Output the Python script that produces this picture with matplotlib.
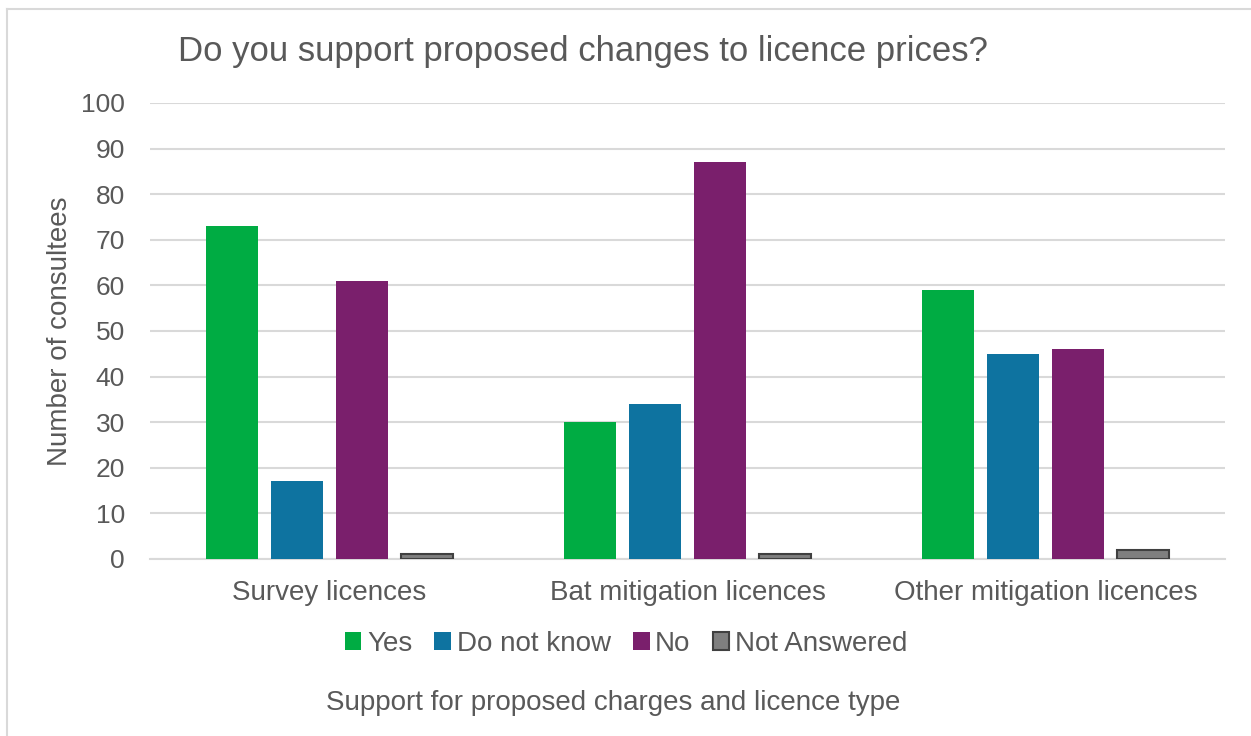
import matplotlib.pyplot as plt
import numpy as np
from matplotlib.lines import Line2D

plt.rcParams['font.family'] = ['Liberation Sans', 'DejaVu Sans']

categories = ["Survey licences", "Bat mitigation licences", "Other mitigation licences"]
series = ["Yes", "Do not know", "No", "Not Answered"]
yes = [73, 30, 59]
do_not_know = [17, 34, 45]
no = [61, 87, 46]
not_answered = [1, 1, 2]

colors = ["#00AC43", "#0E73A0", "#7A1F6C", "#7F7F7F"]
edges = ["none", "none", "none", "#404040"]
txt = "#595959"
grid = "#D9D9D9"

fig = plt.figure(figsize=(12.51, 7.36), dpi=100)
ax = fig.add_axes([150 / 1251, 1 - 559 / 736, 1075 / 1251, 456 / 736])

x = np.arange(len(categories))
width = 0.145
step = 0.1816
for i, (name, vals) in enumerate(zip(series, [yes, do_not_know, no, not_answered])):
    ax.bar(x + (i - 1.5) * step, vals, width, color=colors[i], edgecolor=edges[i],
           linewidth=1.5 if edges[i] != "none" else 0, label=name, zorder=3)

ax.set_xlim(-0.5, 2.5)
ax.set_ylim(0, 100)
ax.set_yticks(range(0, 101, 10))
ax.set_xticks(x)
ax.set_xticklabels(categories, fontsize=20)
ax.yaxis.grid(True, color=grid, linewidth=1.5, zorder=0)
ax.tick_params(axis='both', length=0, labelcolor=txt)
ax.tick_params(axis='y', labelsize=19, pad=18)
ax.tick_params(axis='x', pad=15)
for side in ["top", "right", "left"]:
    ax.spines[side].set_visible(False)
ax.spines["bottom"].set_color(grid)
ax.spines["bottom"].set_linewidth(1.5)

ax.set_ylabel("Number of consultees", fontsize=20, color=txt, labelpad=6)

fig.text(178 / 1251, 1 - 52 / 736, "Do you support proposed changes to licence prices?",
         fontsize=25, color=txt, va="center", ha="left")
fig.text(613 / 1251, 1 - 703 / 736, "Support for proposed charges and licence type",
         fontsize=20, color=txt, va="center", ha="center")

fig.legend(loc="center", bbox_to_anchor=(626 / 1251, 1 - 644 / 736), ncol=4,
           frameon=False, fontsize=20, labelcolor=txt, handlelength=0.6,
           handleheight=0.6, handletextpad=0.2, columnspacing=0.8)

# outer chart frame
fig.add_artist(Line2D([7 / 1251, 7 / 1251], [0, 1 - 9 / 736], color=grid, lw=1.5,
                      transform=fig.transFigure))
fig.add_artist(Line2D([7 / 1251, 1], [1 - 9 / 736, 1 - 9 / 736], color=grid, lw=1.5,
                      transform=fig.transFigure))

fig.savefig("out.png", dpi=100)
